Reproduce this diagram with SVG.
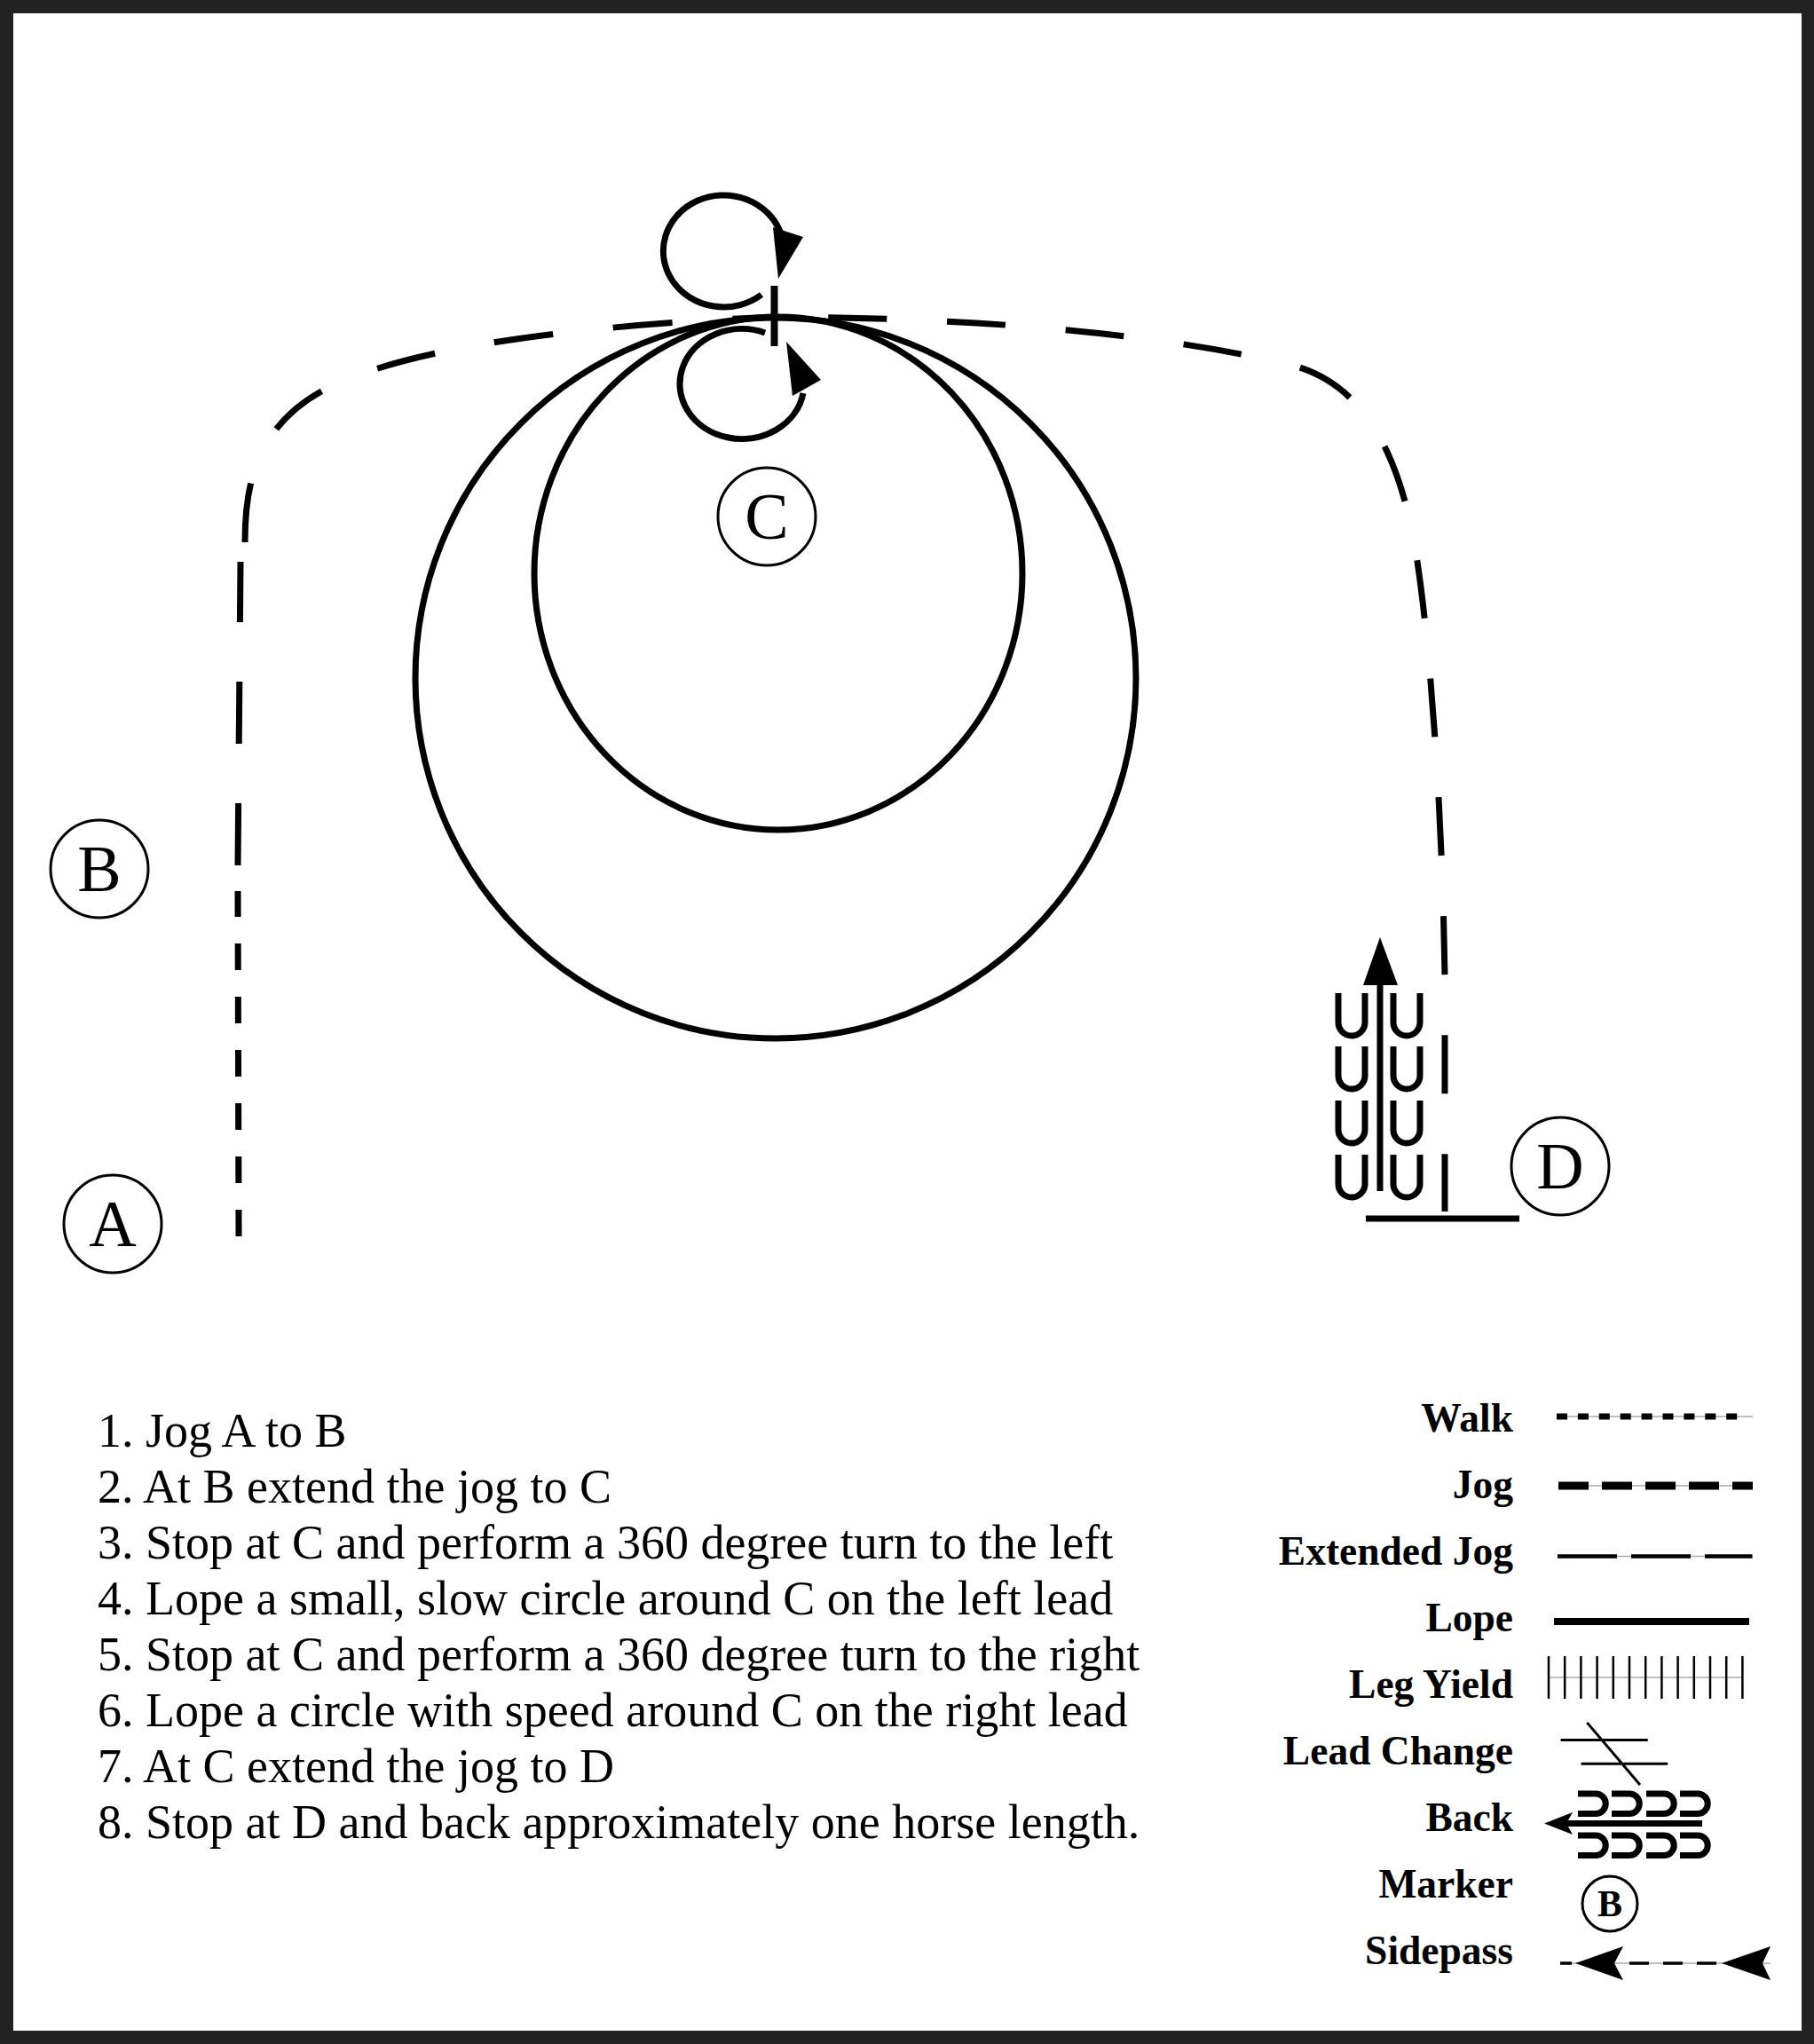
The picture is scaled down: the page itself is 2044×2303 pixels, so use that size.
<svg xmlns="http://www.w3.org/2000/svg" width="2044" height="2303" viewBox="0 0 2044 2303">
<style>
.ln{fill:none;stroke:#000;stroke-linecap:butt}
.lope{fill:none;stroke:#000;stroke-width:7}
.jog{fill:none;stroke:#000;stroke-width:7;stroke-dasharray:30 30}
.ext{fill:none;stroke:#000;stroke-width:7}
.mk circle{fill:none;stroke:#000;stroke-width:3}
.mk text{font-family:"Liberation Serif",serif;font-size:74px;text-anchor:middle;fill:#000}
.step{font-family:"Liberation Serif",serif;font-size:54px;fill:#000}
.lg{font-family:"Liberation Serif",serif;font-size:45.5px;font-weight:bold;text-anchor:end;fill:#000}
.thin{stroke:#aaa;stroke-width:1.5;fill:none}
.ah{fill:#000;stroke:none}
</style>
<rect x="0" y="0" width="2044" height="2303" fill="#222"/>
<rect x="15" y="15" width="2015" height="2273" fill="#fff"/>

<g id="connectors">
  <!-- Jog A to B -->
  <path class="jog" d="M269,1393 L268,1004"/>
  <!-- Extended jog B to C -->
  <path class="ext" style="stroke-dasharray:70 67" d="M268,975 L271,633"/>
  <path class="ext" style="stroke-dasharray:67 68" d="M276,611 C276,550 286,474 380,432 C470,392 640,367 874,357"/>
  <!-- Extended jog C to D -->
  <path class="ext" style="stroke-dasharray:66 68;stroke-dashoffset:75" d="M874,357 C1100,358 1300,375 1450,410 C1510,424 1570,470 1595,620 C1610,710 1625,900 1628,1100 L1628,1365"/>
  <!-- Lope circles -->
  <circle class="lope" cx="874" cy="764" r="406"/>
  <ellipse class="lope" cx="877" cy="646" rx="275" ry="289"/>
  <!-- 360 turn left (upper loop) -->
  <path class="lope" d="M858,332 A68,63 0 1 1 879.5,262"/>
  <polygon class="ah" points="877,314 871,256 905,267"/>
  <!-- 360 turn right (lower loop) -->
  <path class="lope" d="M862,375 A70,62 0 1 0 905,443"/>
  <polygon class="ah" points="886,385 925,428 893,446"/>
  <!-- stop mark at C -->
  <line class="ln" x1="872.5" y1="322" x2="872.5" y2="390" stroke-width="8"/>
  <!-- stop line at D -->
  <line class="ln" x1="1539" y1="1373" x2="1712" y2="1373" stroke-width="7"/>
  <!-- back at D -->
  <g id="back-d">
    <line class="ln" x1="1555" y1="1342" x2="1555" y2="1100" stroke-width="7"/>
    <polygon class="ah" points="1555,1056 1575,1110 1536,1110"/>
    <path class="ln" stroke-width="7" d="M1508,1119 V1152 A15,15 0 0 0 1538,1152 V1119 M1508,1179 V1212 A15,15 0 0 0 1538,1212 V1179 M1508,1240 V1273 A15,15 0 0 0 1538,1273 V1240 M1508,1301 V1334 A15,15 0 0 0 1538,1334 V1301"/>
    <path class="ln" stroke-width="7" d="M1570,1119 V1152 A15,15 0 0 0 1600,1152 V1119 M1570,1179 V1212 A15,15 0 0 0 1600,1212 V1179 M1570,1240 V1273 A15,15 0 0 0 1600,1273 V1240 M1570,1301 V1334 A15,15 0 0 0 1600,1334 V1301"/>
  </g>
</g>

<g id="marker-A" class="mk"><circle cx="127" cy="1379" r="55"/><text x="127" y="1404">A</text></g>
<g id="marker-B" class="mk"><circle cx="112" cy="979" r="55"/><text x="112" y="1004">B</text></g>
<g id="marker-C" class="mk"><circle cx="864" cy="582" r="55"/><text x="864" y="607">C</text></g>
<g id="marker-D" class="mk"><circle cx="1758" cy="1314" r="55"/><text x="1758" y="1339">D</text></g>

<g id="instructions" class="step">
  <text x="110" y="1630">1. Jog A to B</text>
  <text x="110" y="1693">2. At B extend the jog to C</text>
  <text x="110" y="1756">3. Stop at C and perform a 360 degree turn to the left</text>
  <text x="110" y="1819">4. Lope a small, slow circle around C on the left lead</text>
  <text x="110" y="1882">5. Stop at C and perform a 360 degree turn to the right</text>
  <text x="110" y="1945">6. Lope a circle with speed around C on the right lead</text>
  <text x="110" y="2008">7. At C extend the jog to D</text>
  <text x="110" y="2071">8. Stop at D and back approximately one horse length.</text>
</g>

<g id="legend">
  <text class="lg" x="1705" y="1613">Walk</text>
  <text class="lg" x="1705" y="1688">Jog</text>
  <text class="lg" x="1705" y="1763">Extended Jog</text>
  <text class="lg" x="1705" y="1838">Lope</text>
  <text class="lg" x="1705" y="1913">Leg Yield</text>
  <text class="lg" x="1705" y="1988">Lead Change</text>
  <text class="lg" x="1705" y="2063">Back</text>
  <text class="lg" x="1705" y="2138">Marker</text>
  <text class="lg" x="1705" y="2213">Sidepass</text>

  <g id="lg-walk">
    <line class="thin" x1="1754" y1="1596" x2="1975" y2="1596"/>
    <line class="ln" x1="1754" y1="1596" x2="1958" y2="1596" stroke-width="7" stroke-dasharray="12 11.9"/>
  </g>
  <g id="lg-jog">
    <line class="thin" x1="1756" y1="1674" x2="1975" y2="1674"/>
    <line class="ln" x1="1756" y1="1674" x2="1975" y2="1674" stroke-width="9" stroke-dasharray="34 15"/>
  </g>
  <g id="lg-ext">
    <line class="thin" x1="1755" y1="1753.5" x2="1974.5" y2="1753.5"/>
    <line class="ln" x1="1755" y1="1753.5" x2="1974.5" y2="1753.5" stroke-width="4.5" stroke-dasharray="67 16"/>
  </g>
  <line id="lg-lope" class="ln" x1="1751" y1="1827" x2="1971" y2="1827" stroke-width="8"/>
  <g id="lg-legyield">
    <line class="thin" x1="1745" y1="1890" x2="1964" y2="1890"/>
    <path class="ln" stroke-width="2.5" d="M1745,1866V1914 M1763.2,1866V1914 M1781.4,1866V1914 M1799.6,1866V1914 M1817.8,1866V1914 M1836,1866V1914 M1854.2,1866V1914 M1872.4,1866V1914 M1890.6,1866V1914 M1908.8,1866V1914 M1927,1866V1914 M1945.2,1866V1914 M1963.4,1866V1914"/>
  </g>
  <g id="lg-leadchange">
    <path class="ln" stroke-width="3" d="M1758.6,1960.5 H1856.7 M1781.6,1987.3 H1879.2 M1788.3,1940.9 L1848,2011"/>
  </g>
  <g id="lg-back">
    <line class="ln" x1="1765" y1="2054.5" x2="1918" y2="2054.5" stroke-width="7"/>
    <polygon class="ah" points="1740,2054.5 1772,2042 1765,2054.5 1772,2067"/>
    <path class="ln" stroke-width="7" d="M1778,2021 H1798 A11.25,11.25 0 0 1 1798,2043.5 H1778 M1816,2021 H1836 A11.25,11.25 0 0 1 1836,2043.5 H1816 M1855,2021 H1875 A11.25,11.25 0 0 1 1875,2043.5 H1855 M1893,2021 H1913 A11.25,11.25 0 0 1 1913,2043.5 H1893"/>
    <path class="ln" stroke-width="7" d="M1778,2068 H1798 A11.25,11.25 0 0 1 1798,2090.5 H1778 M1816,2068 H1836 A11.25,11.25 0 0 1 1836,2090.5 H1816 M1855,2068 H1875 A11.25,11.25 0 0 1 1875,2090.5 H1855 M1893,2068 H1913 A11.25,11.25 0 0 1 1913,2090.5 H1893"/>
  </g>
  <g id="lg-marker">
    <circle cx="1814" cy="2145" r="31" fill="none" stroke="#000" stroke-width="3"/>
    <text x="1814" y="2159" font-family="Liberation Serif, serif" font-size="42" font-weight="bold" text-anchor="middle">B</text>
  </g>
  <g id="lg-sidepass">
    <line class="thin" x1="1758" y1="2212" x2="1995" y2="2212"/>
    <path class="ln" stroke-width="3.5" d="M1758,2212 H1771 M1836,2212 H1858 M1874,2212 H1896 M1912,2212 H1934"/>
    <polygon class="ah" points="1775,2212 1829,2193 1819,2212 1829,2231"/>
    <polygon class="ah" points="1940,2212 1995,2193 1986,2212 1995,2231"/>
  </g>
</g>
</svg>
